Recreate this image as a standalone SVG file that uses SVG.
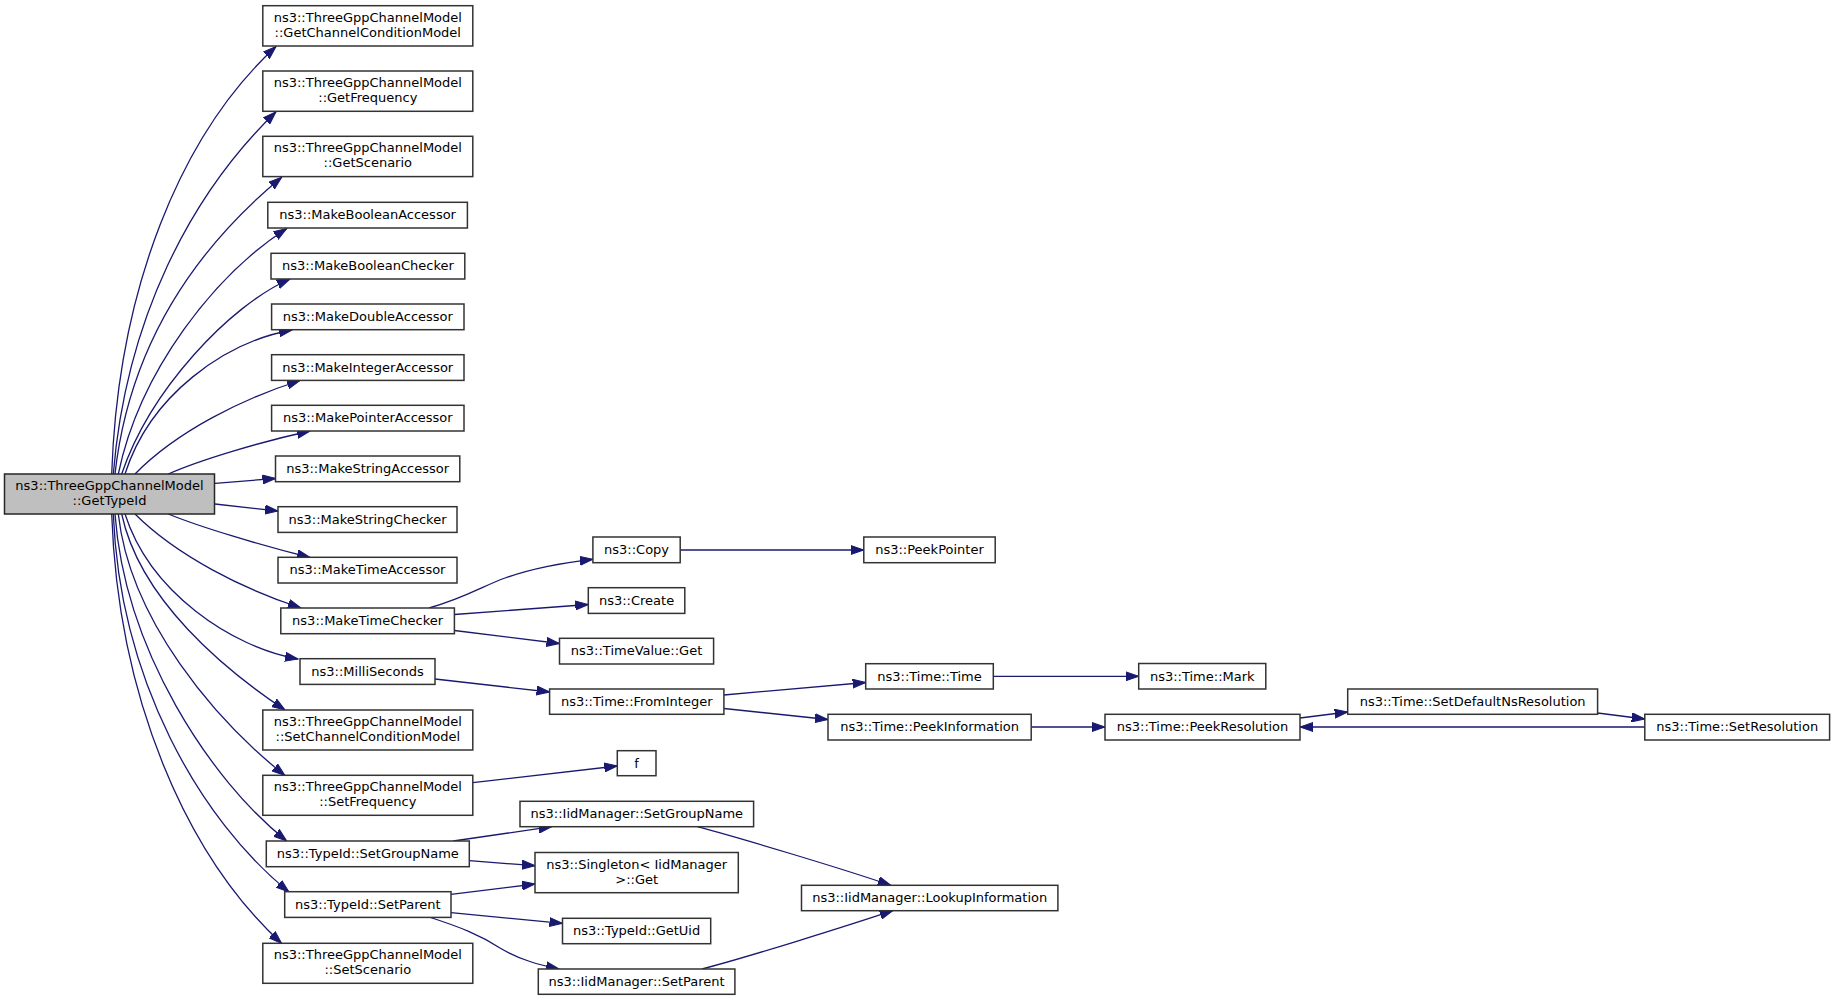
<svg xmlns="http://www.w3.org/2000/svg" width="1835" height="1001" viewBox="0 0 1835 1001">
<style>
.node rect{fill:#ffffff;stroke:#333333;stroke-width:1.5}
.root rect{fill:#bfbfbf;stroke:#262626}
text{font-family:"DejaVu Sans","Liberation Sans",sans-serif;font-size:13px;text-anchor:middle;fill:#000}
#edges path{fill:none;stroke:#191970;stroke-width:1.3;marker-end:url(#arr)}
</style>
<defs>
<marker id="arr" markerUnits="userSpaceOnUse" markerWidth="14" markerHeight="10" refX="13" refY="5" orient="auto">
<path d="M0,0.5 L13,5 L0,9.5 Z" fill="#191970" stroke="#191970" stroke-width="1"/>
</marker>
</defs>
<rect x="0" y="0" width="1835" height="1001" fill="#ffffff"/>
<g id="edges">
<path d="M111.7,474 C118,290 180,135 276,46.5"/>
<path d="M113.3,474 C126,320 190,195 276,111.8"/>
<path d="M115,474 C130,340 200,245 281.7,177.2"/>
<path d="M118.3,474 C140,370 215,275 286.7,228.5"/>
<path d="M121.7,474 C150,390 230,305 290,279"/>
<path d="M125,474 C150,395 225,342 292,330"/>
<path d="M135,474 C177,431 243,398.5 300,380.5"/>
<path d="M168.3,474 C200,460 260,442 310,431"/>
<path d="M215,483.3 L275.5,478.5"/>
<path d="M215,504 L278,511"/>
<path d="M168.3,514 C200,527 260,545 310,557.5"/>
<path d="M135,514 C177,556 244,589.5 301,608"/>
<path d="M125,514 C150,592 231,647 298,659"/>
<path d="M121.7,514 C140,600 225,670 285,710"/>
<path d="M118.3,514 C130,620 215,720 285,775.5"/>
<path d="M115,514 C125,650 210,780 286.7,841"/>
<path d="M113.3,514 C120,680 200,820 289,892"/>
<path d="M111.7,514 C118,697 185.7,855 281.7,943.5"/>
<path d="M429,608 C465,598 485,585 505,578 C530,569 560,563 592.9,559.3"/>
<path d="M454.4,614.5 L588.3,604.5"/>
<path d="M454.4,630.5 L559.5,643.5"/>
<path d="M435,679 L549.6,692"/>
<path d="M723.9,695 L865.7,682.5"/>
<path d="M723.9,708.5 L828,719.5"/>
<path d="M680.2,550 L863.8,550"/>
<path d="M993.3,676.3 L1138.7,676.3"/>
<path d="M1031.2,727 L1105,727"/>
<path d="M1300,718 L1347.7,712"/>
<path d="M1597.6,713 L1644.8,719"/>
<path d="M1644.8,727 L1300,727"/>
<path d="M472.8,782.7 L617.3,766"/>
<path d="M453.3,841 L551.7,826.7"/>
<path d="M469.3,860.7 L535,865.7"/>
<path d="M451,894.3 L535,884"/>
<path d="M451,912.7 L562.5,923.3"/>
<path d="M429,917 C460,927 480,935 500,948 C520,960 540,965 559,969"/>
<path d="M697.3,826.7 C740,838 840,868 890.8,885.3"/>
<path d="M702,969 C745,958 850,925 892.7,910.7"/>
</g>
<g id="n_root" class="node root"><rect x="4.5" y="474" width="210" height="40"/><text x="109.5" y="490">ns3::ThreeGppChannelModel</text><text x="109.5" y="505">::GetTypeId</text></g>
<g id="n_gccm" class="node"><rect x="262.8" y="5.7" width="210" height="40.3"/><text x="367.8" y="21.7">ns3::ThreeGppChannelModel</text><text x="367.8" y="36.7">::GetChannelConditionModel</text></g>
<g id="n_gf" class="node"><rect x="262.8" y="71" width="210" height="40.3"/><text x="367.8" y="87">ns3::ThreeGppChannelModel</text><text x="367.8" y="102">::GetFrequency</text></g>
<g id="n_gs" class="node"><rect x="262.8" y="136.3" width="210" height="40.3"/><text x="367.8" y="152.3">ns3::ThreeGppChannelModel</text><text x="367.8" y="167.3">::GetScenario</text></g>
<g id="n_mba" class="node"><rect x="267.8" y="202.3" width="199.6" height="25.7"/><text x="367.6" y="219.4">ns3::MakeBooleanAccessor</text></g>
<g id="n_mbc" class="node"><rect x="271" y="253.3" width="193.8" height="25.7"/><text x="367.9" y="270.4">ns3::MakeBooleanChecker</text></g>
<g id="n_mda" class="node"><rect x="271.6" y="304" width="192.4" height="25.7"/><text x="367.8" y="321.1">ns3::MakeDoubleAccessor</text></g>
<g id="n_mia" class="node"><rect x="271.6" y="354.7" width="192.4" height="25.7"/><text x="367.8" y="371.8">ns3::MakeIntegerAccessor</text></g>
<g id="n_mpa" class="node"><rect x="271.6" y="405.3" width="192.4" height="25.7"/><text x="367.8" y="422.4">ns3::MakePointerAccessor</text></g>
<g id="n_msa" class="node"><rect x="275.5" y="456" width="184.3" height="25.7"/><text x="367.65" y="473.1">ns3::MakeStringAccessor</text></g>
<g id="n_msc" class="node"><rect x="278" y="506.7" width="179" height="25.7"/><text x="367.5" y="523.8">ns3::MakeStringChecker</text></g>
<g id="n_mta" class="node"><rect x="278" y="557.3" width="179" height="25.7"/><text x="367.5" y="574.4">ns3::MakeTimeAccessor</text></g>
<g id="n_mtc" class="node"><rect x="280.8" y="608" width="173.6" height="25.7"/><text x="367.6" y="625.1">ns3::MakeTimeChecker</text></g>
<g id="n_ms" class="node"><rect x="300" y="658.7" width="135" height="25.7"/><text x="367.5" y="675.8">ns3::MilliSeconds</text></g>
<g id="n_sccm" class="node"><rect x="262.8" y="710" width="210" height="40"/><text x="367.8" y="726">ns3::ThreeGppChannelModel</text><text x="367.8" y="741">::SetChannelConditionModel</text></g>
<g id="n_sf" class="node"><rect x="262.8" y="775.3" width="210" height="40"/><text x="367.8" y="791.3">ns3::ThreeGppChannelModel</text><text x="367.8" y="806.3">::SetFrequency</text></g>
<g id="n_tsgn" class="node"><rect x="266.3" y="841" width="203" height="25.7"/><text x="367.8" y="858.1">ns3::TypeId::SetGroupName</text></g>
<g id="n_tsp" class="node"><rect x="284.7" y="891.7" width="166.3" height="25.7"/><text x="367.85" y="908.8">ns3::TypeId::SetParent</text></g>
<g id="n_ss" class="node"><rect x="262.8" y="943.3" width="210" height="40"/><text x="367.8" y="959.3">ns3::ThreeGppChannelModel</text><text x="367.8" y="974.3">::SetScenario</text></g>
<g id="n_copy" class="node"><rect x="592.9" y="537" width="87.3" height="25.7"/><text x="636.55" y="554.1">ns3::Copy</text></g>
<g id="n_create" class="node"><rect x="588.3" y="587.7" width="96.5" height="25.7"/><text x="636.55" y="604.8">ns3::Create</text></g>
<g id="n_tvg" class="node"><rect x="559.5" y="638.3" width="154.1" height="25.7"/><text x="636.55" y="655.4">ns3::TimeValue::Get</text></g>
<g id="n_fi" class="node"><rect x="549.6" y="689" width="174.3" height="25.3"/><text x="636.75" y="706">ns3::Time::FromInteger</text></g>
<g id="n_f" class="node"><rect x="617.3" y="750.7" width="38.7" height="25"/><text x="636.65" y="767.6">f</text></g>
<g id="n_isgn" class="node"><rect x="520" y="801.3" width="233.6" height="25.4"/><text x="636.8" y="818.3">ns3::IidManager::SetGroupName</text></g>
<g id="n_single" class="node"><rect x="535" y="852.5" width="203.3" height="40.2"/><text x="636.65" y="868.5">ns3::Singleton&lt; IidManager</text><text x="636.65" y="883.5">&gt;::Get</text></g>
<g id="n_uid" class="node"><rect x="562.5" y="918.3" width="148.2" height="25.4"/><text x="636.6" y="935.3">ns3::TypeId::GetUid</text></g>
<g id="n_isp" class="node"><rect x="538.3" y="969" width="196.6" height="25.3"/><text x="636.6" y="986">ns3::IidManager::SetParent</text></g>
<g id="n_pp" class="node"><rect x="863.8" y="537" width="131.4" height="25.7"/><text x="929.5" y="554.1">ns3::PeekPointer</text></g>
<g id="n_time" class="node"><rect x="865.7" y="663.7" width="127.6" height="25.3"/><text x="929.5" y="680.7">ns3::Time::Time</text></g>
<g id="n_pi" class="node"><rect x="828" y="714.3" width="203.2" height="25.7"/><text x="929.6" y="731.4">ns3::Time::PeekInformation</text></g>
<g id="n_li" class="node"><rect x="801.5" y="885.3" width="256.4" height="25.4"/><text x="929.7" y="902.3">ns3::IidManager::LookupInformation</text></g>
<g id="n_mark" class="node"><rect x="1138.7" y="663.5" width="127.1" height="25.5"/><text x="1202.25" y="680.6">ns3::Time::Mark</text></g>
<g id="n_pr" class="node"><rect x="1105" y="714.3" width="195" height="25.7"/><text x="1202.5" y="731.4">ns3::Time::PeekResolution</text></g>
<g id="n_sdnr" class="node"><rect x="1347.7" y="689" width="249.9" height="25.3"/><text x="1472.65" y="706">ns3::Time::SetDefaultNsResolution</text></g>
<g id="n_sr" class="node"><rect x="1644.8" y="714.3" width="184.8" height="25.7"/><text x="1737.2" y="731.4">ns3::Time::SetResolution</text></g>
</svg>
